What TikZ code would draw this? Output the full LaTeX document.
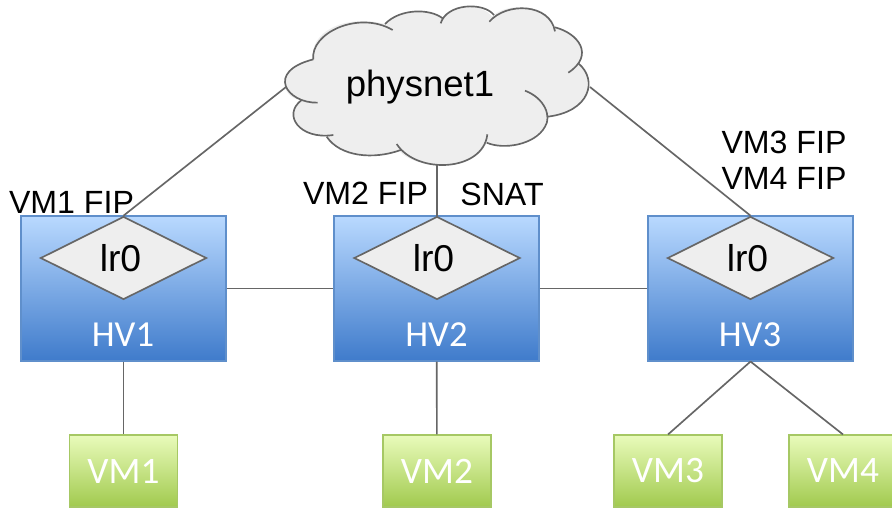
\documentclass[tikz,border=0pt]{standalone}
\usepackage{fontspec}
\setmainfont{Liberation Sans}
\newfontfamily\boxfont{Carlito}
\usetikzlibrary{shapes.geometric}
\definecolor{linegray}{HTML}{666666}
\definecolor{cloudgray}{HTML}{EEEEEE}
\tikzset{
  link/.style={draw=linegray, line width=1.25pt},
  hvbox/.style={draw=hvedge, top color=hvtop, bottom color=hvbottom, line width=.8pt, minimum width=153.75pt, minimum height=108.75pt, inner sep=0pt},
  vmbox/.style={draw=vmedge, top color=vmtop, bottom color=vmbottom, line width=.8pt, minimum width=81pt, minimum height=54pt, inner sep=0pt, text=white, font=\boxfont\fontsize{28}{33}\selectfont},
  router/.style={diamond, draw=linegray, fill=cloudgray, line width=1.25pt, aspect=2, minimum width=124.5pt, minimum height=62.25pt, inner sep=0pt},
  routername/.style={inner sep=0pt, font=\fontsize{28}{33}\selectfont},
  hvname/.style={text=white, inner sep=0pt, font=\boxfont\fontsize{27.5}{33}\selectfont},
  fip/.style={inner sep=0pt, font=\fontsize{24.1}{29}\selectfont},
}
\definecolor{hvtop}{HTML}{B9D9FF}
\definecolor{hvbottom}{HTML}{3F7BCB}
\definecolor{hvedge}{HTML}{5F8FCB}
\definecolor{vmtop}{HTML}{E9FBBB}
\definecolor{vmbottom}{HTML}{A1CA4E}
\definecolor{vmedge}{HTML}{A6C864}
\begin{document}
\begin{tikzpicture}[x=.75pt, y=-.75pt]
\useasboundingbox (0,0) rectangle (892,507);
% Cloud, in the scale of a 3x crop
\begin{scope}[shift={(270,0)}, x=.25pt, y=-.25pt]
\fill[cloudgray] (130,178) .. controls (115,100) and (220,40) .. (345,72)
  .. controls (390,25) and (480,25) .. (515,55)
  .. controls (550,10) and (640,10) .. (665,50)
  .. controls (710,5) and (840,10) .. (855,85)
  .. controls (920,100) and (950,150) .. (928,190)
  .. controls (985,240) and (960,335) .. (833,350)
  .. controls (820,420) and (720,455) .. (650,428)
  .. controls (610,510) and (440,515) .. (385,450)
  .. controls (310,480) and (210,470) .. (170,410)
  .. controls (90,410) and (45,350) .. (90,300)
  .. controls (30,290) and (15,205) .. (130,178) -- cycle;
\draw[link] (130,178) .. controls (120,100) and (265,30) .. (368,90);
\draw[link] (345,72) .. controls (390,25) and (480,25) .. (518,55);
\draw[link] (512,70) .. controls (530,10) and (640,5) .. (672,45);
\draw[link] (658,65) .. controls (710,5) and (840,10) .. (855,94);
\draw[link] (855,82) .. controls (925,100) and (975,165) .. (895,218);
\draw[link] (925,190) .. controls (985,240) and (960,335) .. (833,350);
\draw[link] (765,272) .. controls (825,295) and (845,350) .. (825,380) .. controls (795,435) and (700,450) .. (650,428);
\draw[link] (652,403) .. controls (640,515) and (440,525) .. (380,432);
\draw[link] (392,450) .. controls (310,480) and (210,470) .. (170,410);
\draw[link] (190,405) .. controls (90,420) and (35,345) .. (95,300);
\draw[link] (143,308) .. controls (50,310) and (-15,215) .. (130,178);
\end{scope}
\node[inner sep=0pt, font=\fontsize{27.4}{33}\selectfont] (cloud) at (420,87) {physnet1};
\coordinate (cloudleft) at (286,87);
\coordinate (cloudright) at (590,87);
\coordinate (cloudbottom) at (437,165);
% Hypervisors
\node[hvbox] (hv1) at (123.5,288.5) {};
\node[hvbox] (hv2) at (436.5,288.5) {};
\node[hvbox] (hv3) at (750.5,288.5) {};
\node[hvname] (hv1name) at (123,335) {HV1};
\node[hvname] (hv2name) at (436.5,335) {HV2};
\node[hvname] (hv3name) at (750,335) {HV3};
% Routers
\node[router] (lr1) at (123.5,258) {};
\node[router] (lr2) at (437,258) {};
\node[router] (lr3) at (750.5,258) {};
\node[routername] (lr1name) at (120.5,258) {lr0};
\node[routername] (lr2name) at (433.5,258) {lr0};
\node[routername] (lr3name) at (747.5,258) {lr0};
% VMs
\node[vmbox] (vm1) at (123.5,471) {VM1};
\node[vmbox] (vm2) at (437,471) {VM2};
\node[vmbox] (vm3) at (668,471) {VM3};
\node[vmbox] (vm4) at (843,471) {VM4};
% Links
\draw[link] (cloudleft) -- (lr1.north);
\draw[link] (cloudbottom) -- (lr2.north);
\draw[link] (cloudright) -- (lr3.north);
\draw[link] (hv1) -- (hv2);
\draw[link] (hv2) -- (hv3);
\draw[link] (hv1) -- (vm1);
\draw[link] (hv2) -- (vm2);
\draw[link] (hv3.south) -- (vm3.north);
\draw[link] (hv3.south) -- (vm4.north);
% FIP labels
\node[fip] (fip1) at (71.5,202) {VM1 FIP};
\node[fip] (fip2) at (365.5,193) {VM2 FIP};
\node[fip] (snat) at (502,194) {SNAT};
\node[fip] (fip3) at (784,142) {VM3 FIP};
\node[fip] (fip4) at (784,178) {VM4 FIP};
\end{tikzpicture}
\end{document}
